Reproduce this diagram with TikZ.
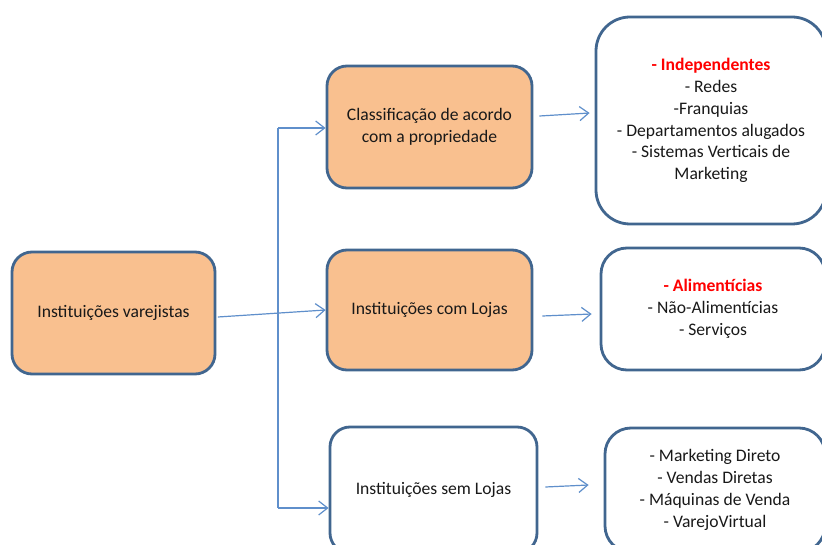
\documentclass[tikz,border=0pt]{standalone}
\usepackage{fontspec}
\setmainfont{Carlito}
\usetikzlibrary{arrows.meta}
\definecolor{boxline}{HTML}{41668F}
\definecolor{peach}{HTML}{F9C08F}
\definecolor{conncol}{HTML}{5F8FCB}
\definecolor{redtxt}{HTML}{FF0000}
\tikzset{
  box/.style={draw=boxline, line width=2.8pt, rounded corners=20pt, align=center, inner sep=0pt,
    font=\fontsize{17.6}{21.8}\selectfont, text=black!90},
  peachbox/.style={box, fill=peach},
  whitebox/.style={box, fill=white},
  conn/.style={draw=conncol, line width=1.2pt},
  arr/.style={conn, -{Straight Barb[length=9pt,width=14pt,line width=1.2pt]}},
}
\begin{document}
\begin{tikzpicture}[x=1pt,y=-1pt]
\useasboundingbox (0,0) rectangle (822,545);
\clip (0,0) rectangle (822,545);
\fill[white] (0,0) rectangle (822,545);
% left
\node[peachbox, minimum width=203pt, minimum height=122pt] (inst) at (113.5,313) {Instituições varejistas};
% middle
\node[peachbox, minimum width=205pt, minimum height=122pt] (cls) at (429.5,127) {Classificação de acordo\\com a propriedade};
\node[peachbox, minimum width=205pt, minimum height=120pt] (com) at (429.5,310) {Instituições com Lojas};
\node[whitebox, minimum width=207pt, minimum height=126pt] (sem) at (433.5,490) {Instituições sem Lojas};
% right
\node[whitebox, rounded corners=34pt, minimum width=230pt, minimum height=207pt] (r1) at (711,120.5)
  {{\color{redtxt}\bfseries - Independentes}\\- Redes\\-Franquias\\- Departamentos alugados\\- Sistemas Verticais de\\Marketing};
\node[whitebox, rounded corners=26pt, minimum width=224pt, minimum height=122pt] (r2) at (713,309)
  {{\color{redtxt}\bfseries - Alimentícias}\\- Não-Alimentícias\\- Serviços};
\node[whitebox, rounded corners=26pt, minimum width=220pt, minimum height=124pt] (r3) at (715,490)
  {- Marketing Direto\\- Vendas Diretas\\- Máquinas de Venda\\- VarejoVirtual};
% connectors
\coordinate (tt) at (278,128);
\coordinate (tb) at (278,508);
\draw[conn] (tt) -- (tb);
\draw[arr] (tt) -- (tt -| cls.west);
\draw[arr] (tb) -- (tb -| sem.west);
\draw[arr] ([xshift=1.5pt,yshift=-4pt]inst.east) -- (com.west);
\draw[arr] ([xshift=6pt,yshift=11pt]cls.east) -- ([xshift=-5pt,yshift=7.5pt]r1.west);
\draw[arr] ([xshift=9pt,yshift=-6pt]com.east) -- ([xshift=-8pt,yshift=-5pt]r2.west);
\draw[arr] ([xshift=7pt,yshift=3pt]sem.east) -- ([xshift=-15pt,yshift=5pt]r3.west);
\end{tikzpicture}
\end{document}
